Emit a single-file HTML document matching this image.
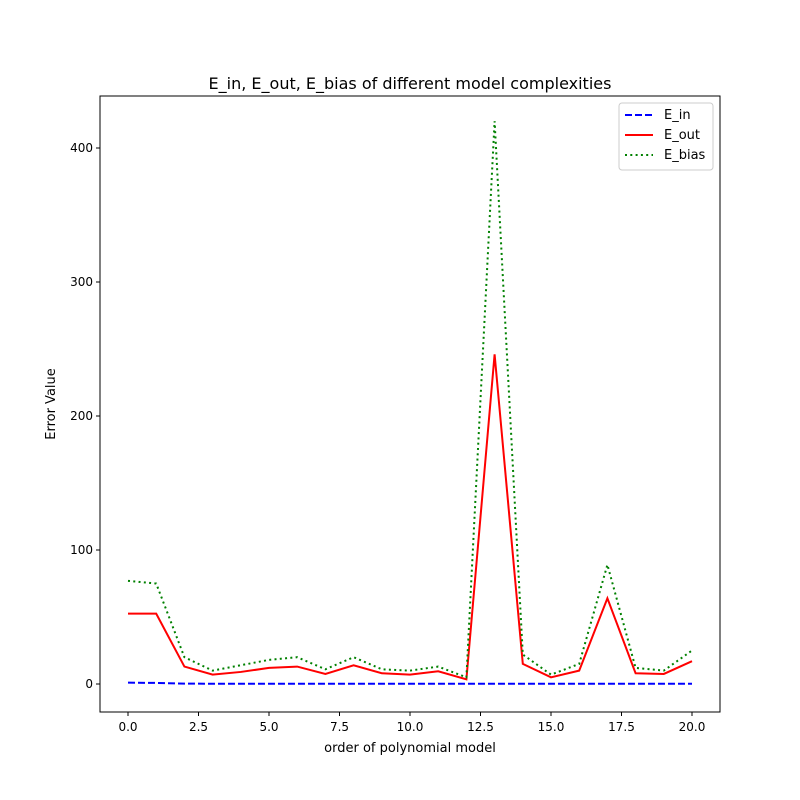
<!DOCTYPE html>
<html><head><meta charset="utf-8"><style>body{margin:0;background:#fff}svg{display:block;font-family:"DejaVu Sans","Liberation Sans",sans-serif}</style></head>
<body>
<svg id="chart" width="800" height="800"></svg>
<script>
const categories=[0,1,2,3,4,5,6,7,8,9,10,11,12,13,14,15,16,17,18,19,20];
const eIn=[1,0.8,0.3,0.2,0.2,0.2,0.2,0.2,0.2,0.2,0.2,0.2,0.2,0.2,0.2,0.2,0.2,0.2,0.2,0.2,0.2];
const eOut=[52.5,52.5,13,7,9,12,13,7.5,14,8,7,9.5,3.5,246,15,5,10,64,8,7.5,17];
const eBias=[77,75,20,10,14,18,20,11,20,11,10,13,5,420,22,7,15,89,12,10,25];
const xTicks=[0,2.5,5,7.5,10,12.5,15,17.5,20];
const xTickLabels=["0.0","2.5","5.0","7.5","10.0","12.5","15.0","17.5","20.0"];
const yTicks=[0,100,200,300,400];
const NS="http://www.w3.org/2000/svg";
const svg=document.getElementById('chart');
const L=100,R=720,T=96,B=712;
function sx(v){return 128+(v-0)*(692-128)/20;}
function sy(v){return 684-v*(684-148)/400;}
function mk(tag,attrs,parent){const e=document.createElementNS(NS,tag);for(const k in attrs)e.setAttribute(k,attrs[k]);(parent||svg).appendChild(e);return e;}
const title=mk('text',{x:410,y:89,'text-anchor':'middle','font-size':16});title.textContent="E_in, E_out, E_bias of different model complexities";


xTicks.forEach((t,i)=>{const x=sx(t);mk('line',{x1:x,x2:x,y1:B,y2:B+4,stroke:'#000'});const tx=mk('text',{x:x,y:B+19,'text-anchor':'middle','font-size':12});tx.textContent=xTickLabels[i];

});
yTicks.forEach(t=>{const y=sy(t);mk('line',{x1:L-4,x2:L,y1:y,y2:y,stroke:'#000'});const tx=mk('text',{x:L-7,y:y+4,'text-anchor':'end','font-size':12});tx.textContent=t;

});
const xl=mk('text',{x:410,y:752,'text-anchor':'middle','font-size':13});xl.textContent="order of polynomial model";


const yl=mk('text',{x:55,y:404,'text-anchor':'middle','font-size':13,transform:'rotate(-90 55 404)'});yl.textContent="Error Value";


function line(data,color,dash,name){const p=mk('polyline',{points:data.map((v,i)=>sx(categories[i])+','+sy(v)).join(' '),fill:'none',stroke:color,'stroke-width':2,'stroke-dasharray':dash});

}
line(eIn,'#0000ff','7,3','line-e-in');
line(eOut,'#ff0000','none','line-e-out');
line(eBias,'#008000','2,3.3','line-e-bias');
const frame=mk('rect',{x:L,y:T,width:R-L,height:B-T,fill:'none',stroke:'#000','stroke-width':1});


const lg=mk('g',{});


mk('rect',{x:619,y:103,width:94,height:67,fill:'#fff',stroke:'#ccc',rx:3},lg);
[['E_in','#0000ff','7,3'],['E_out','#ff0000','none'],['E_bias','#008000','2,3.3']].forEach((e,i)=>{const y=115+i*20;mk('line',{x1:625,x2:653,y1:y,y2:y,stroke:e[1],'stroke-width':2,'stroke-dasharray':e[2]},lg);const t=mk('text',{x:664,y:y+4,'font-size':13},lg);t.textContent=e[0];

});
</script>
</body></html>
